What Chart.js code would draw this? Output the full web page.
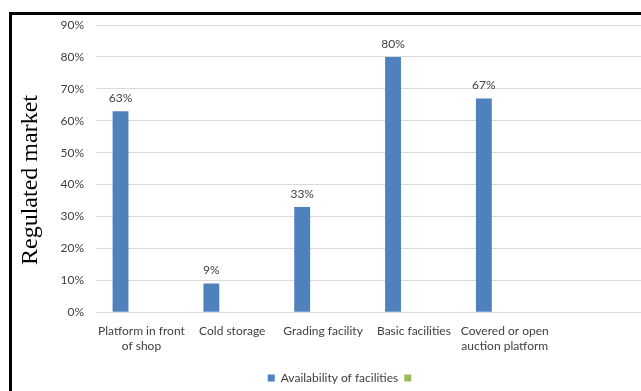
<!DOCTYPE html>
<html>
<head>
<meta charset="utf-8">
<script src="https://cdn.jsdelivr.net/npm/chart.js@4/dist/chart.umd.min.js"></script>
<style>
  html, body { margin: 0; padding: 0; background: #fff; }
  #wrap { width: 641px; height: 391px; }
</style>
</head>
<body>
<div id="wrap"><canvas id="facilitiesChart" width="641" height="391"></canvas></div>
<script>
// chart values
const categories = [
    ['Platform in front', 'of shop'],
    'Cold storage',
    'Grading facility',
    'Basic facilities',
    ['Covered or open', 'auction platform'],
    ''
];
const availability = [63, 9, 33, 80, 67, null];
const secondSeries = [null, null, null, null, null, null];
const yTicks = [0, 10, 20, 30, 40, 50, 60, 70, 80, 90];
const yTitle = 'Regulated market';

const textGrey = '#404040';

// black frame on the top and left edge, plus the rotated axis title
const framePlugin = {
    id: 'frame',
    afterDraw(chart) {
        const ctx = chart.ctx;
        ctx.save();
        ctx.fillStyle = '#000';
        ctx.fillRect(9, 12, 3, 379);
        ctx.fillRect(9, 12, 632, 3);

        ctx.translate(31, 180);
        ctx.rotate(-Math.PI / 2);
        ctx.font = '24px "Liberation Serif"';
        ctx.textAlign = 'center';
        ctx.textBaseline = 'middle';
        ctx.fillText(yTitle, 0, 0);
        ctx.restore();
    }
};

// percent labels above the bars
const valueLabels = {
    id: 'valueLabels',
    afterDatasetsDraw(chart) {
        const ctx = chart.ctx;
        const meta = chart.getDatasetMeta(0);
        ctx.save();
        ctx.font = '12px Lato';
        ctx.fillStyle = textGrey;
        ctx.textAlign = 'center';
        ctx.textBaseline = 'bottom';
        meta.data.forEach((bar, i) => {
            const v = availability[i];
            if (v === null) return;
            ctx.fillText(v + '%', bar.x, bar.y - 7);
        });
        ctx.restore();
    }
};

new Chart(document.getElementById('facilitiesChart'), {
    type: 'bar',
    data: {
        labels: categories,
        datasets: [{
            label: 'Availability of facilities',
            data: availability,
            backgroundColor: '#4F81BD',
            categoryPercentage: 0.92,
            barPercentage: 0.38
        }, {
            label: '',
            data: secondSeries,
            backgroundColor: '#9BBB59',
            categoryPercentage: 0.92,
            barPercentage: 0.38
        }]
    },
    options: {
        responsive: false,
        animation: false,
        layout: {
            padding: { left: 44, top: 25, right: 0, bottom: -3 }
        },
        plugins: {
            legend: {
                position: 'bottom',
                labels: {
                    boxWidth: 7,
                    boxHeight: 7,
                    padding: 6,
                    color: textGrey,
                    font: { family: 'Lato', size: 12 }
                }
            },
            tooltip: { enabled: false }
        },
        scales: {
            x: {
                afterFit(scale) { scale.height += 9; },
                grid: { display: false },
                border: { color: '#D9D9D9' },
                ticks: {
                    color: textGrey,
                    font: { family: 'Lato', size: 12 },
                    maxRotation: 0,
                    autoSkip: false,
                    padding: 4
                }
            },
            y: {
                min: 0,
                max: 90,
                afterFit(scale) { scale.width = 52; },
                afterBuildTicks(scale) {
                    scale.ticks = yTicks.map(v => ({ value: v }));
                },
                grid: { color: '#D9D9D9', drawTicks: false },
                border: { display: false },
                ticks: {
                    color: textGrey,
                    padding: 12,
                    font: { family: 'Lato', size: 12 },
                    callback: v => v + '%'
                }
            }
        }
    },
    plugins: [framePlugin, valueLabels]
});
</script>
</body>
</html>
